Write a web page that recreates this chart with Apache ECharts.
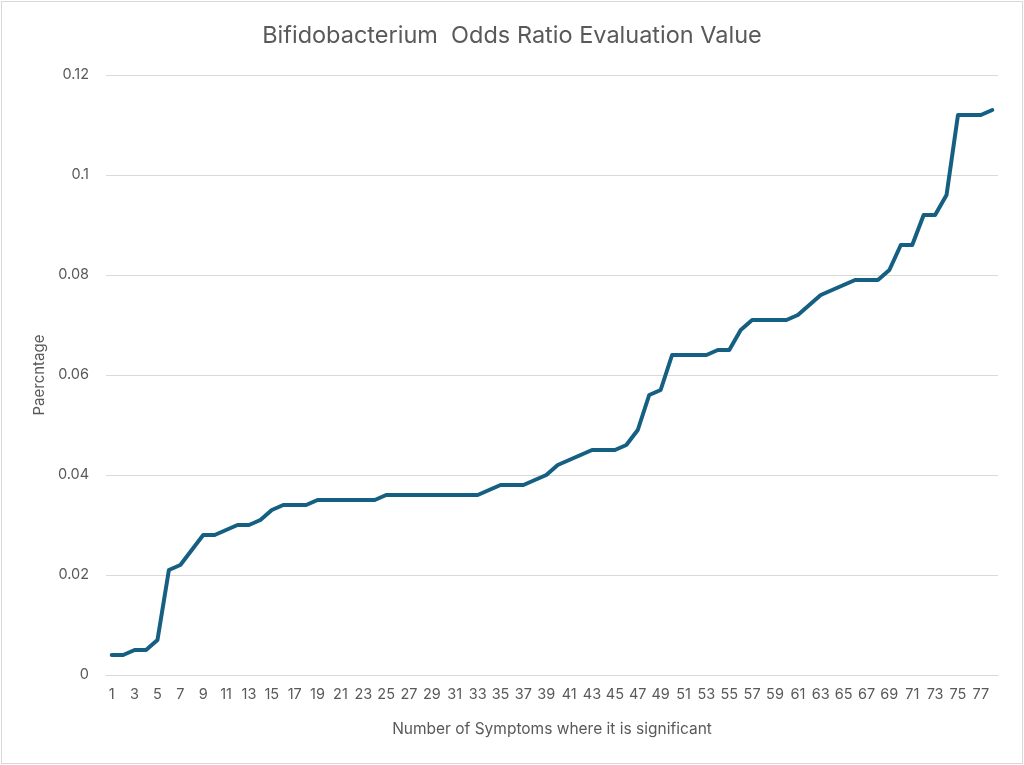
<!DOCTYPE html>
<html>
<head>
<meta charset="utf-8">
<script src="https://cdn.jsdelivr.net/npm/echarts@6/dist/echarts.min.js"></script>
<style>
html,body{margin:0;padding:0;background:#fff;}
#frame{position:absolute;left:1px;top:1px;width:1020px;height:761px;border:1px solid #d9d9d9;}
#chart{width:1024px;height:765px;position:absolute;left:0;top:0;}
</style>
</head>
<body>
<div id="frame"></div>
<div id="chart"></div>
<script>
const categories = [];
for (let i = 1; i <= 78; i++) categories.push(String(i));
const values = [
  0.004, 0.004, 0.005, 0.005, 0.007, 0.021, 0.022, 0.025, 0.028, 0.028,
  0.029, 0.030, 0.030, 0.031, 0.033, 0.034, 0.034, 0.034, 0.035, 0.035,
  0.035, 0.035, 0.035, 0.035, 0.036, 0.036, 0.036, 0.036, 0.036, 0.036,
  0.036, 0.036, 0.036, 0.037, 0.038, 0.038, 0.038, 0.039, 0.040, 0.042,
  0.043, 0.044, 0.045, 0.045, 0.045, 0.046, 0.049, 0.056, 0.057, 0.064,
  0.064, 0.064, 0.064, 0.065, 0.065, 0.069, 0.071, 0.071, 0.071, 0.071,
  0.072, 0.074, 0.076, 0.077, 0.078, 0.079, 0.079, 0.079, 0.081, 0.086,
  0.086, 0.092, 0.092, 0.096, 0.112, 0.112, 0.112, 0.113
];
const titleText = 'Bifidobacterium  Odds Ratio Evaluation Value';
const xName = 'Number of Symptoms where it is significant';
const yName = 'Paercntage';

const font = 'Inter, "Noto Sans", sans-serif';
const chart = echarts.init(document.getElementById('chart'));
chart.setOption({
  animation: false,
  title: {
    text: titleText, left: 'center', top: 19,
    textStyle: { fontFamily: font, fontSize: 23.5, fontWeight: 'normal', color: '#595959' }
  },
  grid: { left: 106, right: 26, top: 75, bottom: 90, containLabel: false },
  xAxis: {
    type: 'category', data: categories, boundaryGap: true,
    name: xName, nameLocation: 'middle', nameGap: 46,
    nameTextStyle: { fontFamily: font, fontSize: 15.5, color: '#595959' },
    axisLine: { show: true, lineStyle: { color: '#d9d9d9', width: 1 } },
    axisTick: { show: false },
    axisLabel: { interval: 1, fontFamily: font, fontSize: 14.5, color: '#595959', margin: 12 }
  },
  yAxis: {
    type: 'value', min: 0, max: 0.12, interval: 0.02,
    name: yName, nameLocation: 'middle', nameGap: 58,
    nameTextStyle: { fontFamily: font, fontSize: 15, color: '#595959' },
    axisLine: { show: false }, axisTick: { show: false },
    splitLine: { lineStyle: { color: '#d9d9d9', width: 1 } },
    axisLabel: { fontFamily: font, fontSize: 14.5, color: '#595959', margin: 17,
      formatter: v => String(parseFloat(v.toFixed(4))) }
  },
  series: [{
    type: 'line', data: values, symbol: 'none', smooth: false,
    lineStyle: { color: '#156082', width: 4, cap: 'round', join: 'round' }
  }]
});
</script>
</body>
</html>
